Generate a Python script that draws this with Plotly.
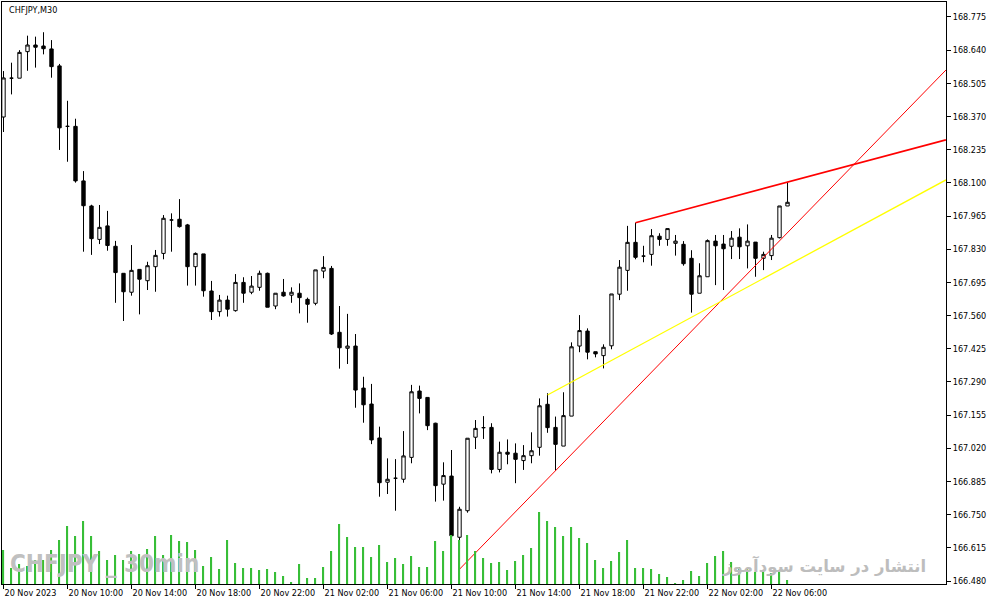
import plotly.graph_objects as go

# 30-minute bars, index 0 = 20 Nov 2023 06:00
bar_index = list(range(99))
opens = [168.368, 168.526, 168.526, 168.634, 168.661, 168.657, 168.645, 168.576, 168.330, 168.330,
         168.108, 168.006, 167.870, 167.925, 167.842, 167.732, 167.655, 167.748, 167.702, 167.759,
         167.813, 167.949, 167.952, 167.929, 167.759, 167.811, 167.660, 167.576, 167.623, 167.580,
         167.695, 167.655, 167.675, 167.732, 167.599, 167.655, 167.643, 167.651, 167.626, 167.610,
         167.741, 167.752, 167.492, 167.427, 167.436, 167.265, 167.200, 167.062, 166.882, 166.898,
         166.894, 166.983, 167.253, 167.227, 167.122, 166.874, 166.907, 166.658, 166.766, 167.065,
         167.104, 167.105, 166.934, 167.004, 167.000, 166.970, 166.990, 167.024, 167.199, 167.105,
         167.029, 167.151, 167.436, 167.497, 167.413, 167.397, 167.437, 167.647, 167.744, 167.858,
         167.802, 167.809, 167.883, 167.870, 167.854, 167.850, 167.793, 167.651, 167.718, 167.863,
         167.851, 167.842, 167.879, 167.844, 167.859, 167.793, 167.804, 167.877, 168.006]
highs = [168.555, 168.589, 168.640, 168.699, 168.695, 168.713, 168.681, 168.584, 168.434, 168.361,
         168.148, 168.011, 168.010, 167.986, 167.864, 167.732, 167.847, 167.748, 167.779, 167.827,
         167.969, 167.976, 168.034, 167.933, 167.817, 167.811, 167.701, 167.644, 167.641, 167.729,
         167.716, 167.721, 167.743, 167.735, 167.651, 167.709, 167.675, 167.691, 167.633, 167.746,
         167.802, 167.762, 167.599, 167.567, 167.485, 167.311, 167.282, 167.108, 166.979, 166.976,
         167.090, 167.278, 167.275, 167.227, 167.124, 166.963, 167.013, 166.782, 167.061, 167.135,
         167.151, 167.122, 167.047, 167.056, 167.040, 167.033, 167.085, 167.223, 167.244, 167.149,
         167.248, 167.451, 167.562, 167.508, 167.413, 167.443, 167.648, 167.786, 167.925, 167.938,
         167.844, 167.912, 167.895, 167.914, 167.888, 167.863, 167.826, 167.773, 167.870, 167.888,
         167.888, 167.904, 167.915, 167.931, 167.859, 167.820, 167.888, 168.006, 168.104]
lows = [168.307, 168.460, 168.526, 168.556, 168.569, 168.623, 168.528, 168.234, 168.186, 168.101,
        167.820, 167.807, 167.851, 167.824, 167.612, 167.538, 167.641, 167.565, 167.664, 167.657,
        167.789, 167.820, 167.918, 167.682, 167.682, 167.637, 167.542, 167.556, 167.556, 167.576,
        167.612, 167.647, 167.661, 167.594, 167.586, 167.637, 167.612, 167.569, 167.531, 167.602,
        167.712, 167.481, 167.344, 167.363, 167.185, 167.124, 167.037, 166.823, 166.834, 166.766,
        166.880, 166.959, 167.162, 167.094, 166.803, 166.807, 166.664, 166.528, 166.758, 167.017,
        167.058, 166.918, 166.922, 166.955, 166.878, 166.932, 166.959, 166.990, 167.083, 166.929,
        167.029, 167.151, 167.411, 167.382, 167.390, 167.345, 167.423, 167.623, 167.661, 167.789,
        167.777, 167.763, 167.844, 167.844, 167.804, 167.763, 167.572, 167.651, 167.718, 167.684,
        167.664, 167.790, 167.790, 167.752, 167.718, 167.745, 167.786, 167.874, 168.006]
closes = [168.527, 168.526, 168.631, 168.661, 168.652, 168.646, 168.573, 168.324, 168.330, 168.108,
          168.007, 167.873, 167.919, 167.845, 167.735, 167.657, 167.744, 167.708, 167.763, 167.805,
          167.956, 167.949, 167.922, 167.759, 167.813, 167.661, 167.576, 167.623, 167.586, 167.695,
          167.651, 167.680, 167.732, 167.594, 167.651, 167.640, 167.655, 167.633, 167.606, 167.746,
          167.756, 167.485, 167.429, 167.436, 167.257, 167.197, 167.054, 166.880, 166.894, 166.898,
          166.989, 167.250, 167.223, 167.112, 166.868, 166.909, 166.664, 166.772, 167.061, 167.101,
          167.104, 166.934, 167.004, 166.996, 166.975, 166.990, 167.010, 167.193, 167.104, 167.036,
          167.153, 167.433, 167.499, 167.411, 167.404, 167.431, 167.648, 167.757, 167.858, 167.797,
          167.802, 167.885, 167.870, 167.914, 167.863, 167.771, 167.647, 167.722, 167.865, 167.844,
          167.832, 167.875, 167.840, 167.863, 167.793, 167.809, 167.875, 168.006, 168.021]
volumes = [340, 160, 200, 180, 240, 240, 340, 440, 580, 480,
           630, 480, 330, 240, 290, 240, 330, 300, 350, 480,
           290, 490, 430, 420, 340, 180, 270, 150, 440, 210,
           160, 160, 140, 150, 120, 80, 20, 200, 60, 60,
           170, 330, 600, 470, 370, 370, 270, 390, 220, 260,
           200, 280, 170, 170, 430, 330, 490, 440, 490, 330,
           260, 210, 220, 140, 230, 290, 360, 720, 630, 570,
           480, 570, 460, 410, 240, 160, 230, 320, 440, 160,
           160, 150, 100, 70, 10, 40, 130, 80, 210, 280,
           330, 220, 170, 150, 120, 120, 110, 140, 40]

tick_bars = [0, 8, 16, 24, 32, 40, 48, 56, 64, 72, 80, 88, 96]
tick_labels = ["20 Nov 2023", "20 Nov 10:00", "20 Nov 14:00", "20 Nov 18:00", "20 Nov 22:00",
               "21 Nov 02:00", "21 Nov 06:00", "21 Nov 10:00", "21 Nov 14:00", "21 Nov 18:00",
               "21 Nov 22:00", "22 Nov 02:00", "22 Nov 06:00"]
price_ticks = [168.775, 168.640, 168.505, 168.370, 168.235, 168.100, 167.965, 167.830, 167.695,
               167.560, 167.425, 167.290, 167.155, 167.020, 166.885, 166.750, 166.615, 166.480]
price_labels = ["%.3f" % p for p in price_ticks]

# trend lines: (bar index, price) from anchor to the right edge
support_x = [57, 117.8]
support_y = [166.528, 168.559]
resist_x = [79, 117.8]
resist_y = [167.938, 168.275]
yellow_x = [68, 117.8]
yellow_y = [167.237, 168.112]

axis_font = dict(family="DejaVu Sans Condensed, DejaVu Sans", size=9, color="black")

fig = go.Figure()

fig.add_trace(go.Bar(
    x=bar_index, y=volumes, yaxis="y2", width=0.15,
    marker=dict(color="rgb(55,190,55)", line=dict(width=0)),
    hoverinfo="skip", showlegend=False,
))

fig.add_trace(go.Candlestick(
    x=bar_index, open=opens, high=highs, low=lows, close=closes,
    increasing=dict(fillcolor="white", line=dict(color="black", width=1)),
    decreasing=dict(fillcolor="black", line=dict(color="black", width=1)),
    whiskerwidth=0, showlegend=False,
))

fig.add_trace(go.Scatter(x=support_x, y=support_y, mode="lines",
                         line=dict(color="#ff0000", width=1), showlegend=False, hoverinfo="skip"))
fig.add_trace(go.Scatter(x=resist_x, y=resist_y, mode="lines",
                         line=dict(color="#ff0000", width=1.6), showlegend=False, hoverinfo="skip"))
fig.add_trace(go.Scatter(x=yellow_x, y=yellow_y, mode="lines",
                         line=dict(color="#ffff00", width=1.3), showlegend=False, hoverinfo="skip"))

fig.update_layout(
    width=991, height=605,
    margin=dict(l=2, r=45, t=2, b=21),
    paper_bgcolor="white", plot_bgcolor="white",
    boxgap=0.4,
    showlegend=False,
    xaxis=dict(
        range=[-0.1875, 117.81], rangeslider=dict(visible=False),
        tickmode="array", tickvals=tick_bars, ticktext=tick_labels,
        ticks="outside", ticklen=4, tickcolor="black",
        ticklabelposition="outside right",
        showgrid=False, zeroline=False,
        showline=True, linecolor="black", linewidth=1, mirror=True,
        tickfont=axis_font,
    ),
    yaxis=dict(
        side="right", range=[166.4678, 168.836],
        tickmode="array", tickvals=price_ticks, ticktext=price_labels,
        ticks="outside", ticklen=4, tickcolor="black",
        showgrid=False, zeroline=False,
        showline=True, linecolor="black", linewidth=1, mirror=True,
        tickfont=axis_font,
    ),
    yaxis2=dict(overlaying="y", range=[0, 5820], visible=False),
    annotations=[
        dict(text="CHFJPY,M30", xref="paper", yref="paper", x=0.0055, y=0.9854,
             xanchor="left", yanchor="middle", showarrow=False, font=axis_font),
        dict(text="<b>CHFJPY _ 30min</b>", xref="paper", yref="paper", x=0.0064, y=0.0344,
             xanchor="left", yanchor="middle", showarrow=False,
             font=dict(family="DejaVu Sans Condensed, DejaVu Sans", size=24, color="#c0c0c0")),
        dict(text="<b>انتشار در سایت سودآموز</b>", xref="paper", yref="paper", x=0.981, y=0.031,
             xanchor="right", yanchor="middle", showarrow=False,
             font=dict(family="DejaVu Sans", size=16.5, color="#bdbdbd")),
    ],
)

# the page has a default 8px body margin; drop it so the chart fills the window
fig.write_html("out.html", config={"displayModeBar": False},
               post_script="document.body.style.margin='0';")
